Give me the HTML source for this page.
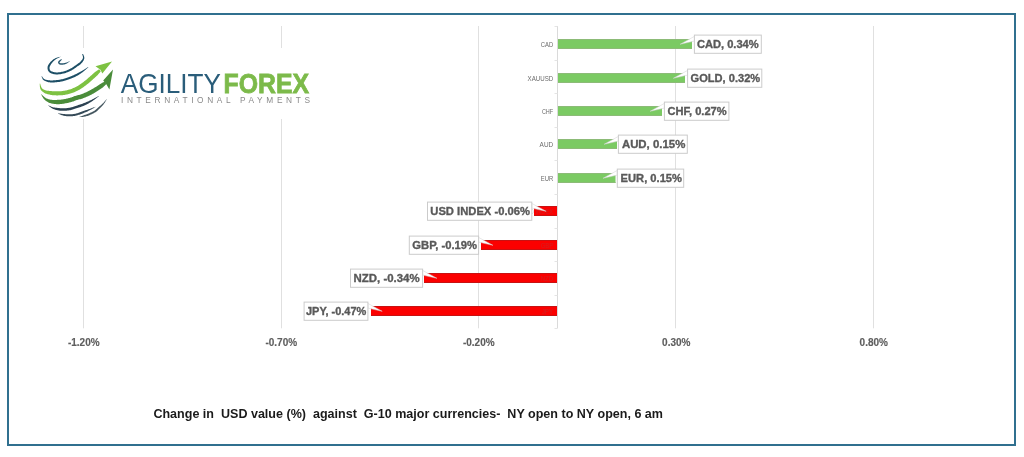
<!DOCTYPE html>
<html><head><meta charset="utf-8"><title>USD vs G-10 currencies</title>
<style>
html,body{margin:0;padding:0;background:#fff;}
body{width:1024px;height:457px;overflow:hidden;position:relative;}
svg{position:absolute;left:0;top:0;display:block;filter:blur(0.35px);}
.lbl{font-family:"Liberation Sans",Arial,sans-serif;font-weight:bold;fill:#595959;stroke:#595959;stroke-width:0.32px;}
.cat{font-family:"Liberation Sans",Arial,sans-serif;fill:#595959;}
</style></head><body>
<svg width="1024" height="457" viewBox="0 0 1024 457">
<rect x="0" y="0" width="1024" height="457" fill="#fff"/>

<rect x="8" y="14" width="1007" height="431" fill="none" stroke="#30708f" stroke-width="2"/>
<line x1="83.5" y1="26" x2="83.5" y2="328.3" stroke="#e0e0e0" stroke-width="1"/>
<line x1="281.5" y1="26" x2="281.5" y2="328.3" stroke="#e0e0e0" stroke-width="1"/>
<line x1="478.5" y1="26" x2="478.5" y2="328.3" stroke="#e0e0e0" stroke-width="1"/>
<line x1="675.5" y1="26" x2="675.5" y2="328.3" stroke="#e0e0e0" stroke-width="1"/>
<line x1="873.5" y1="26" x2="873.5" y2="328.3" stroke="#e0e0e0" stroke-width="1"/>
<line x1="557.5" y1="26" x2="557.5" y2="328.3" stroke="#dadada" stroke-width="1"/>
<line x1="554.5" y1="26.5" x2="557.5" y2="26.5" stroke="#e4e4e4" stroke-width="1"/>
<line x1="554.5" y1="60.5" x2="557.5" y2="60.5" stroke="#e4e4e4" stroke-width="1"/>
<line x1="554.5" y1="93.5" x2="557.5" y2="93.5" stroke="#e4e4e4" stroke-width="1"/>
<line x1="554.5" y1="127.5" x2="557.5" y2="127.5" stroke="#e4e4e4" stroke-width="1"/>
<line x1="554.5" y1="160.5" x2="557.5" y2="160.5" stroke="#e4e4e4" stroke-width="1"/>
<line x1="554.5" y1="194.5" x2="557.5" y2="194.5" stroke="#e4e4e4" stroke-width="1"/>
<line x1="554.5" y1="228.5" x2="557.5" y2="228.5" stroke="#e4e4e4" stroke-width="1"/>
<line x1="554.5" y1="261.5" x2="557.5" y2="261.5" stroke="#e4e4e4" stroke-width="1"/>
<line x1="554.5" y1="295.5" x2="557.5" y2="295.5" stroke="#e4e4e4" stroke-width="1"/>
<line x1="554.5" y1="328.5" x2="557.5" y2="328.5" stroke="#e4e4e4" stroke-width="1"/>
<rect x="558" y="39.0" width="134.0" height="10" fill="#7bca63"/>
<rect x="558" y="39.0" width="134.0" height="1" fill="#8cbb77"/>
<rect x="558" y="48.0" width="134.0" height="1" fill="#8cbb77"/>
<rect x="558" y="73.0" width="127.0" height="10" fill="#7bca63"/>
<rect x="558" y="73.0" width="127.0" height="1" fill="#8cbb77"/>
<rect x="558" y="82.0" width="127.0" height="1" fill="#8cbb77"/>
<rect x="558" y="106.0" width="104.0" height="10" fill="#7bca63"/>
<rect x="558" y="106.0" width="104.0" height="1" fill="#8cbb77"/>
<rect x="558" y="115.0" width="104.0" height="1" fill="#8cbb77"/>
<rect x="558" y="139.0" width="59.0" height="10" fill="#7bca63"/>
<rect x="558" y="139.0" width="59.0" height="1" fill="#8cbb77"/>
<rect x="558" y="148.0" width="59.0" height="1" fill="#8cbb77"/>
<rect x="558" y="173.0" width="57.5" height="10" fill="#7bca63"/>
<rect x="558" y="173.0" width="57.5" height="1" fill="#8cbb77"/>
<rect x="558" y="182.0" width="57.5" height="1" fill="#8cbb77"/>
<rect x="534.0" y="206.0" width="23.0" height="10" fill="#fb0000"/>
<rect x="534.0" y="206.0" width="23.0" height="1" fill="#c81212"/>
<rect x="534.0" y="215.0" width="23.0" height="1" fill="#c81212"/>
<rect x="481.0" y="240.0" width="76.0" height="10" fill="#fb0000"/>
<rect x="481.0" y="240.0" width="76.0" height="1" fill="#c81212"/>
<rect x="481.0" y="249.0" width="76.0" height="1" fill="#c81212"/>
<rect x="424.0" y="273.0" width="133.0" height="10" fill="#fb0000"/>
<rect x="424.0" y="273.0" width="133.0" height="1" fill="#c81212"/>
<rect x="424.0" y="282.0" width="133.0" height="1" fill="#c81212"/>
<rect x="371.0" y="306.0" width="186.0" height="10" fill="#fb0000"/>
<rect x="371.0" y="306.0" width="186.0" height="1" fill="#c81212"/>
<rect x="371.0" y="315.0" width="186.0" height="1" fill="#c81212"/>
<text class="cat" x="540.8" y="46.9" font-size="7.2" textLength="12.4" lengthAdjust="spacingAndGlyphs" style="fill:#6a6a6a">CAD</text>
<text class="cat" x="527.6" y="80.9" font-size="7.2" textLength="25.6" lengthAdjust="spacingAndGlyphs" style="fill:#6a6a6a">XAUUSD</text>
<text class="cat" x="541.9" y="113.9" font-size="7.2" textLength="11.3" lengthAdjust="spacingAndGlyphs" style="fill:#6a6a6a">CHF</text>
<text class="cat" x="539.6" y="146.9" font-size="7.2" textLength="13.6" lengthAdjust="spacingAndGlyphs" style="fill:#6a6a6a">AUD</text>
<text class="cat" x="540.7" y="180.9" font-size="7.2" textLength="12.5" lengthAdjust="spacingAndGlyphs" style="fill:#6a6a6a">EUR</text>
<text class="cat" x="521.7" y="213.9" font-size="7.2" textLength="31.5" lengthAdjust="spacingAndGlyphs" style="fill:#6a6a6a" opacity="0.3">USD INDEX</text>
<text class="cat" x="540.7" y="247.9" font-size="7.2" textLength="12.5" lengthAdjust="spacingAndGlyphs" style="fill:#6a6a6a" opacity="0.3">GBP</text>
<text class="cat" x="540.7" y="280.9" font-size="7.2" textLength="12.5" lengthAdjust="spacingAndGlyphs" style="fill:#6a6a6a" opacity="0.3">NZD</text>
<text class="cat" x="541.7" y="313.9" font-size="7.2" textLength="11.5" lengthAdjust="spacingAndGlyphs" style="fill:#6a6a6a" opacity="0.3">JPY</text>
<path d="M694.4,36.4 L680.1,44.3 L694.4,41.1 Z" fill="#fff" stroke="#d0d0d0" stroke-width="0.5"/>
<rect x="694.4" y="35.1" width="66.9" height="18.2" fill="#fff" stroke="#cbcbcb" stroke-width="1"/>
<text class="lbl" x="696.9" y="48.3" font-size="10.2" textLength="61.8" lengthAdjust="spacingAndGlyphs">CAD, 0.34%</text>
<path d="M687.6,70.4 L673.3,78.3 L687.6,75.1 Z" fill="#fff" stroke="#d0d0d0" stroke-width="0.5"/>
<rect x="687.6" y="69.1" width="74.2" height="18.2" fill="#fff" stroke="#cbcbcb" stroke-width="1"/>
<text class="lbl" x="690.6" y="82.3" font-size="10.2" textLength="69.6" lengthAdjust="spacingAndGlyphs">GOLD, 0.32%</text>
<path d="M664.4,103.4 L650.1,111.3 L664.4,108.1 Z" fill="#fff" stroke="#d0d0d0" stroke-width="0.5"/>
<rect x="664.4" y="102.1" width="64.5" height="18.2" fill="#fff" stroke="#cbcbcb" stroke-width="1"/>
<text class="lbl" x="667.4" y="115.3" font-size="10.2" textLength="59.3" lengthAdjust="spacingAndGlyphs">CHF, 0.27%</text>
<path d="M618.4,136.4 L604.1,144.3 L618.4,141.1 Z" fill="#fff" stroke="#d0d0d0" stroke-width="0.5"/>
<rect x="618.4" y="135.1" width="68.9" height="18.2" fill="#fff" stroke="#cbcbcb" stroke-width="1"/>
<text class="lbl" x="621.9" y="148.3" font-size="10.2" textLength="63.4" lengthAdjust="spacingAndGlyphs">AUD, 0.15%</text>
<path d="M617.3,170.4 L603.0,178.3 L617.3,175.1 Z" fill="#fff" stroke="#d0d0d0" stroke-width="0.5"/>
<rect x="617.3" y="169.1" width="66.4" height="18.2" fill="#fff" stroke="#cbcbcb" stroke-width="1"/>
<text class="lbl" x="620.6" y="182.3" font-size="10.2" textLength="61.4" lengthAdjust="spacingAndGlyphs">EUR, 0.15%</text>
<path d="M531.8,203.4 L546.1,211.3 L531.8,208.1 Z" fill="#fff" stroke="#d0d0d0" stroke-width="0.5"/>
<rect x="427.5" y="202.1" width="104.3" height="18.2" fill="#fff" stroke="#cbcbcb" stroke-width="1"/>
<text class="lbl" x="430.3" y="215.3" font-size="10.2" textLength="99.7" lengthAdjust="spacingAndGlyphs">USD INDEX -0.06%</text>
<path d="M478.6,237.4 L492.9,245.3 L478.6,242.1 Z" fill="#fff" stroke="#d0d0d0" stroke-width="0.5"/>
<rect x="409.3" y="236.1" width="69.3" height="18.2" fill="#fff" stroke="#cbcbcb" stroke-width="1"/>
<text class="lbl" x="412.3" y="249.3" font-size="10.2" textLength="64.7" lengthAdjust="spacingAndGlyphs">GBP, -0.19%</text>
<path d="M422.6,270.4 L436.9,278.3 L422.6,275.1 Z" fill="#fff" stroke="#d0d0d0" stroke-width="0.5"/>
<rect x="350.5" y="269.1" width="72.1" height="18.2" fill="#fff" stroke="#cbcbcb" stroke-width="1"/>
<text class="lbl" x="353.6" y="282.3" font-size="10.2" textLength="66.0" lengthAdjust="spacingAndGlyphs">NZD, -0.34%</text>
<path d="M367.9,303.4 L382.2,311.3 L367.9,308.1 Z" fill="#fff" stroke="#d0d0d0" stroke-width="0.5"/>
<rect x="304.1" y="302.1" width="63.8" height="18.2" fill="#fff" stroke="#cbcbcb" stroke-width="1"/>
<text class="lbl" x="306.0" y="315.3" font-size="10.2" textLength="60.3" lengthAdjust="spacingAndGlyphs">JPY, -0.47%</text>
<text class="cat" x="83.8" y="346.4" font-size="10" font-weight="bold" text-anchor="middle" style="fill:#5e5e5e;stroke:#5e5e5e;stroke-width:0.15px">-1.20%</text>
<text class="cat" x="281.3" y="346.4" font-size="10" font-weight="bold" text-anchor="middle" style="fill:#5e5e5e;stroke:#5e5e5e;stroke-width:0.15px">-0.70%</text>
<text class="cat" x="478.8" y="346.4" font-size="10" font-weight="bold" text-anchor="middle" style="fill:#5e5e5e;stroke:#5e5e5e;stroke-width:0.15px">-0.20%</text>
<text class="cat" x="676.3" y="346.4" font-size="10" font-weight="bold" text-anchor="middle" style="fill:#5e5e5e;stroke:#5e5e5e;stroke-width:0.15px">0.30%</text>
<text class="cat" x="873.8" y="346.4" font-size="10" font-weight="bold" text-anchor="middle" style="fill:#5e5e5e;stroke:#5e5e5e;stroke-width:0.15px">0.80%</text>
<text x="153.4" y="418" font-family="Liberation Sans, Arial, sans-serif" font-weight="bold" font-size="12.4" fill="#1a1a1a" textLength="509.6" lengthAdjust="spacingAndGlyphs" xml:space="preserve">Change in  USD value (%)  against  G-10 major currencies-  NY open to NY open, 6 am</text>
<rect x="34" y="48" width="286" height="71" fill="#fff"/>
<path d="M61.33,59.10 L61.06,59.29 L60.67,59.54 L60.18,59.85 L59.66,60.21 L59.16,60.60 L58.70,61.02 L58.32,61.48 L58.08,62.00 L58.04,62.56 L58.15,63.05 L58.38,63.48 L58.69,63.84 L59.06,64.16 L59.49,64.41 L59.96,64.61 L60.47,64.74 L61.03,64.80 L61.64,64.80 L62.30,64.76 L62.99,64.68 L63.69,64.55 L64.39,64.39 L65.05,64.20 L65.68,63.99 L66.30,63.72 L66.92,63.39 L67.54,63.01 L68.12,62.62 L68.66,62.24 L69.14,61.89 L69.54,61.60 L69.85,61.39 L69.75,61.21 L69.40,61.34 L68.94,61.53 L68.39,61.76 L67.79,62.00 L67.15,62.25 L66.51,62.48 L65.89,62.67 L65.32,62.81 L64.74,62.93 L64.10,63.03 L63.45,63.13 L62.80,63.21 L62.17,63.27 L61.60,63.30 L61.11,63.30 L60.73,63.26 L60.43,63.18 L60.16,63.07 L59.93,62.93 L59.75,62.78 L59.62,62.63 L59.55,62.51 L59.53,62.42 L59.52,62.40 L59.58,62.28 L59.79,61.99 L60.12,61.60 L60.51,61.17 L60.92,60.73 L61.31,60.31 L61.64,59.96 L61.87,59.70Z" fill="#2c5a70"/>
<path d="M60.45,56.66 L60.05,56.77 L59.50,56.91 L58.85,57.07 L58.13,57.26 L57.37,57.48 L56.61,57.73 L55.88,58.00 L55.21,58.30 L54.60,58.63 L54.01,58.99 L53.44,59.37 L52.88,59.78 L52.34,60.21 L51.82,60.67 L51.31,61.14 L50.84,61.62 L50.37,62.12 L49.91,62.66 L49.45,63.22 L49.01,63.81 L48.61,64.42 L48.25,65.05 L47.95,65.69 L47.73,66.35 L47.60,67.01 L47.54,67.67 L47.54,68.33 L47.60,68.99 L47.73,69.62 L47.91,70.24 L48.16,70.82 L48.48,71.37 L48.88,71.86 L49.36,72.29 L49.87,72.66 L50.42,72.97 L50.99,73.24 L51.56,73.47 L52.14,73.68 L52.72,73.86 L53.30,74.02 L53.90,74.16 L54.52,74.27 L55.16,74.35 L55.83,74.41 L56.51,74.43 L57.22,74.43 L57.96,74.40 L58.74,74.34 L59.56,74.25 L60.41,74.13 L61.28,73.98 L62.16,73.81 L63.05,73.62 L63.92,73.40 L64.79,73.16 L65.64,72.89 L66.51,72.58 L67.38,72.25 L68.24,71.90 L69.08,71.54 L69.91,71.16 L70.70,70.77 L71.47,70.38 L72.19,69.99 L72.88,69.58 L73.53,69.17 L74.16,68.74 L74.77,68.32 L75.37,67.89 L75.97,67.45 L76.58,67.02 L77.21,66.57 L77.87,66.12 L78.55,65.65 L79.23,65.17 L79.90,64.67 L80.54,64.15 L81.14,63.61 L81.68,63.06 L82.15,62.50 L82.60,61.94 L83.01,61.37 L83.38,60.78 L83.70,60.18 L83.96,59.57 L84.16,58.95 L84.29,58.31 L84.31,57.63 L84.20,56.95 L84.01,56.29 L83.78,55.67 L83.53,55.10 L83.29,54.59 L83.10,54.18 L82.98,53.88 L82.22,54.12 L82.30,54.46 L82.44,54.92 L82.59,55.44 L82.75,56.01 L82.88,56.59 L82.96,57.15 L82.97,57.66 L82.91,58.09 L82.76,58.50 L82.56,58.95 L82.29,59.41 L81.97,59.87 L81.61,60.34 L81.21,60.81 L80.78,61.28 L80.32,61.74 L79.84,62.19 L79.30,62.63 L78.70,63.09 L78.07,63.55 L77.41,64.01 L76.74,64.47 L76.07,64.93 L75.42,65.38 L74.80,65.83 L74.20,66.26 L73.61,66.68 L73.03,67.09 L72.44,67.49 L71.83,67.88 L71.20,68.25 L70.53,68.62 L69.82,68.98 L69.06,69.35 L68.27,69.71 L67.46,70.06 L66.64,70.39 L65.82,70.71 L65.01,70.99 L64.21,71.24 L63.41,71.47 L62.59,71.67 L61.76,71.86 L60.92,72.02 L60.10,72.15 L59.31,72.26 L58.55,72.35 L57.84,72.40 L57.17,72.43 L56.54,72.43 L55.95,72.41 L55.37,72.36 L54.83,72.29 L54.30,72.20 L53.79,72.08 L53.28,71.94 L52.78,71.78 L52.27,71.60 L51.79,71.41 L51.34,71.19 L50.94,70.97 L50.60,70.73 L50.33,70.48 L50.12,70.23 L49.95,69.93 L49.79,69.56 L49.67,69.15 L49.58,68.70 L49.54,68.23 L49.54,67.76 L49.58,67.29 L49.67,66.85 L49.81,66.42 L50.02,65.94 L50.29,65.42 L50.62,64.89 L50.98,64.35 L51.36,63.81 L51.76,63.28 L52.16,62.78 L52.56,62.30 L52.97,61.83 L53.40,61.37 L53.85,60.92 L54.31,60.48 L54.79,60.07 L55.29,59.67 L55.79,59.30 L56.34,58.94 L56.98,58.58 L57.67,58.24 L58.37,57.91 L59.04,57.61 L59.65,57.34 L60.17,57.12 L60.55,56.94Z" fill="#1d4f66"/>
<path d="M41.48,76.42 L41.61,76.70 L41.75,77.08 L41.93,77.54 L42.15,78.05 L42.41,78.60 L42.71,79.14 L43.09,79.65 L43.53,80.10 L44.03,80.47 L44.57,80.80 L45.16,81.09 L45.78,81.36 L46.41,81.59 L47.06,81.80 L47.70,81.98 L48.33,82.14 L48.96,82.27 L49.59,82.36 L50.22,82.43 L50.85,82.48 L51.50,82.50 L52.16,82.49 L52.84,82.48 L53.55,82.45 L54.30,82.41 L55.09,82.36 L55.91,82.29 L56.76,82.21 L57.61,82.12 L58.48,82.01 L59.34,81.88 L60.19,81.73 L61.04,81.57 L61.91,81.38 L62.77,81.17 L63.64,80.95 L64.49,80.72 L65.32,80.48 L66.13,80.24 L66.91,80.00 L67.67,79.76 L68.41,79.51 L69.13,79.25 L69.84,78.99 L70.51,78.73 L71.17,78.47 L71.79,78.22 L72.39,77.97 L72.93,77.76 L73.41,77.57 L73.87,77.39 L74.31,77.20 L74.78,77.00 L75.29,76.76 L75.85,76.47 L76.50,76.12 L77.25,75.69 L78.09,75.19 L78.98,74.64 L79.90,74.04 L80.83,73.42 L81.74,72.79 L82.60,72.17 L83.39,71.59 L84.14,70.99 L84.89,70.36 L85.63,69.73 L86.33,69.11 L86.97,68.52 L87.54,67.99 L88.02,67.55 L88.39,67.22 L88.21,66.98 L87.78,67.24 L87.23,67.59 L86.58,68.01 L85.85,68.47 L85.06,68.96 L84.24,69.46 L83.42,69.95 L82.61,70.41 L81.77,70.88 L80.86,71.38 L79.90,71.90 L78.93,72.42 L77.98,72.94 L77.07,73.43 L76.24,73.88 L75.50,74.28 L74.88,74.61 L74.36,74.87 L73.90,75.09 L73.49,75.27 L73.08,75.44 L72.64,75.62 L72.16,75.81 L71.61,76.03 L71.01,76.27 L70.39,76.52 L69.75,76.77 L69.09,77.02 L68.41,77.28 L67.72,77.53 L67.01,77.77 L66.29,78.00 L65.53,78.23 L64.74,78.46 L63.93,78.69 L63.10,78.92 L62.27,79.13 L61.44,79.33 L60.61,79.51 L59.81,79.67 L59.01,79.80 L58.19,79.93 L57.36,80.03 L56.54,80.12 L55.73,80.20 L54.94,80.26 L54.18,80.31 L53.45,80.35 L52.77,80.38 L52.12,80.40 L51.50,80.41 L50.91,80.41 L50.34,80.40 L49.79,80.37 L49.23,80.33 L48.67,80.26 L48.08,80.18 L47.47,80.08 L46.87,79.96 L46.27,79.83 L45.70,79.68 L45.17,79.51 L44.69,79.31 L44.27,79.10 L43.90,78.84 L43.55,78.50 L43.20,78.09 L42.88,77.65 L42.58,77.20 L42.32,76.79 L42.10,76.43 L41.92,76.18Z" fill="#1d4f66"/>
<path d="M39.70,83.64 L39.74,84.07 L39.77,84.65 L39.80,85.35 L39.85,86.13 L39.93,86.95 L40.06,87.77 L40.25,88.56 L40.53,89.27 L40.90,89.90 L41.33,90.46 L41.80,90.97 L42.31,91.43 L42.83,91.85 L43.35,92.22 L43.87,92.57 L44.38,92.89 L44.90,93.19 L45.44,93.45 L45.98,93.67 L46.53,93.86 L47.08,94.03 L47.63,94.18 L48.20,94.32 L48.81,94.47 L49.46,94.62 L50.16,94.76 L50.88,94.90 L51.64,95.02 L52.43,95.13 L53.24,95.22 L54.08,95.29 L54.93,95.34 L55.81,95.37 L56.73,95.38 L57.68,95.38 L58.64,95.37 L59.62,95.34 L60.60,95.29 L61.57,95.23 L62.52,95.14 L63.44,95.03 L64.34,94.90 L65.24,94.75 L66.13,94.59 L67.00,94.40 L67.86,94.21 L68.71,94.00 L69.55,93.78 L70.37,93.54 L71.17,93.29 L71.97,93.03 L72.75,92.75 L73.53,92.45 L74.30,92.14 L75.08,91.81 L75.85,91.46 L76.64,91.10 L77.42,90.71 L78.20,90.31 L78.99,89.89 L79.77,89.45 L80.55,88.99 L81.33,88.52 L82.12,88.02 L82.91,87.49 L83.70,86.94 L84.49,86.36 L85.27,85.78 L86.05,85.18 L86.81,84.58 L87.56,83.98 L88.29,83.39 L89.03,82.79 L89.75,82.17 L90.47,81.55 L91.17,80.93 L91.86,80.32 L92.54,79.71 L93.21,79.12 L93.86,78.53 L94.53,77.94 L95.21,77.33 L95.89,76.72 L96.55,76.11 L97.17,75.50 L97.75,74.91 L98.26,74.35 L98.71,73.83 L99.11,73.37 L99.47,72.93 L99.80,72.53 L100.08,72.17 L100.34,71.85 L100.55,71.58 L100.73,71.34 L100.88,71.15 L99.12,69.25 L98.91,69.38 L98.67,69.55 L98.38,69.74 L98.04,69.96 L97.66,70.22 L97.25,70.50 L96.79,70.82 L96.29,71.17 L95.74,71.56 L95.13,72.02 L94.49,72.53 L93.82,73.08 L93.15,73.67 L92.48,74.28 L91.80,74.88 L91.14,75.47 L90.47,76.06 L89.80,76.66 L89.13,77.26 L88.45,77.87 L87.77,78.46 L87.09,79.06 L86.40,79.64 L85.71,80.21 L84.99,80.79 L84.26,81.37 L83.53,81.94 L82.79,82.51 L82.05,83.06 L81.32,83.60 L80.60,84.10 L79.88,84.58 L79.17,85.04 L78.45,85.48 L77.73,85.89 L77.01,86.30 L76.30,86.68 L75.58,87.05 L74.86,87.40 L74.15,87.74 L73.43,88.06 L72.73,88.35 L72.03,88.64 L71.34,88.90 L70.63,89.15 L69.92,89.39 L69.20,89.61 L68.45,89.82 L67.69,90.03 L66.91,90.22 L66.13,90.40 L65.33,90.56 L64.53,90.71 L63.72,90.85 L62.91,90.96 L62.08,91.06 L61.24,91.14 L60.37,91.20 L59.47,91.24 L58.56,91.27 L57.65,91.28 L56.75,91.28 L55.89,91.27 L55.07,91.26 L54.29,91.24 L53.53,91.22 L52.78,91.19 L52.06,91.14 L51.35,91.10 L50.67,91.05 L50.02,90.99 L49.39,90.93 L48.80,90.87 L48.25,90.82 L47.75,90.77 L47.30,90.71 L46.87,90.65 L46.47,90.56 L46.06,90.46 L45.62,90.31 L45.14,90.13 L44.63,89.93 L44.14,89.71 L43.66,89.48 L43.20,89.23 L42.78,88.96 L42.40,88.65 L42.07,88.33 L41.76,87.90 L41.45,87.32 L41.16,86.64 L40.88,85.92 L40.64,85.20 L40.43,84.53 L40.24,83.97 L40.10,83.56Z" fill="#7dc242"/>
<path d="M41.14,94.42 L41.35,94.80 L41.63,95.33 L41.96,95.95 L42.34,96.65 L42.75,97.37 L43.19,98.08 L43.66,98.76 L44.15,99.35 L44.64,99.85 L45.16,100.31 L45.69,100.73 L46.23,101.11 L46.78,101.47 L47.34,101.79 L47.89,102.09 L48.44,102.38 L49.00,102.64 L49.56,102.88 L50.13,103.10 L50.71,103.29 L51.32,103.47 L51.95,103.62 L52.61,103.75 L53.32,103.87 L54.09,103.98 L54.90,104.06 L55.75,104.12 L56.62,104.17 L57.51,104.18 L58.40,104.18 L59.29,104.15 L60.17,104.09 L61.05,104.01 L61.94,103.91 L62.83,103.79 L63.71,103.66 L64.58,103.52 L65.43,103.37 L66.25,103.21 L67.04,103.06 L67.81,102.89 L68.57,102.72 L69.31,102.54 L70.03,102.36 L70.72,102.17 L71.39,101.98 L72.03,101.79 L72.66,101.60 L73.27,101.40 L73.83,101.19 L74.34,100.99 L74.80,100.80 L75.24,100.62 L75.68,100.45 L76.15,100.27 L76.67,100.10 L77.26,99.92 L77.93,99.73 L78.66,99.54 L79.43,99.34 L80.24,99.13 L81.06,98.90 L81.90,98.65 L82.72,98.38 L83.51,98.10 L84.29,97.80 L85.07,97.49 L85.85,97.17 L86.63,96.84 L87.40,96.50 L88.17,96.15 L88.95,95.79 L89.72,95.41 L90.49,95.03 L91.27,94.63 L92.04,94.22 L92.81,93.80 L93.58,93.38 L94.34,92.94 L95.11,92.50 L95.88,92.04 L96.66,91.57 L97.44,91.09 L98.21,90.61 L98.98,90.11 L99.74,89.62 L100.50,89.12 L101.24,88.62 L102.00,88.06 L102.77,87.44 L103.54,86.78 L104.27,86.11 L104.94,85.46 L105.53,84.87 L106.02,84.38 L106.39,84.01 L104.61,81.59 L104.14,81.84 L103.52,82.17 L102.79,82.57 L101.98,83.01 L101.14,83.50 L100.30,84.00 L99.50,84.50 L98.76,84.98 L98.05,85.46 L97.33,85.94 L96.59,86.42 L95.85,86.89 L95.11,87.36 L94.37,87.82 L93.63,88.27 L92.89,88.70 L92.16,89.12 L91.42,89.54 L90.69,89.95 L89.96,90.34 L89.23,90.73 L88.51,91.10 L87.78,91.46 L87.05,91.81 L86.33,92.15 L85.60,92.49 L84.87,92.81 L84.15,93.11 L83.43,93.41 L82.71,93.70 L81.99,93.97 L81.28,94.22 L80.58,94.45 L79.85,94.67 L79.09,94.88 L78.32,95.08 L77.55,95.28 L76.79,95.48 L76.04,95.69 L75.33,95.90 L74.68,96.12 L74.10,96.34 L73.59,96.54 L73.12,96.74 L72.69,96.91 L72.27,97.08 L71.83,97.24 L71.34,97.40 L70.77,97.58 L70.17,97.75 L69.54,97.93 L68.90,98.10 L68.24,98.27 L67.56,98.44 L66.87,98.60 L66.16,98.74 L65.42,98.89 L64.64,99.04 L63.84,99.18 L63.02,99.31 L62.21,99.44 L61.40,99.55 L60.61,99.64 L59.83,99.71 L59.05,99.76 L58.24,99.81 L57.43,99.85 L56.62,99.88 L55.83,99.91 L55.06,99.93 L54.34,99.93 L53.68,99.93 L53.07,99.91 L52.50,99.88 L51.99,99.85 L51.50,99.79 L51.03,99.73 L50.55,99.65 L50.07,99.55 L49.56,99.42 L49.02,99.28 L48.49,99.13 L47.96,98.97 L47.44,98.80 L46.93,98.60 L46.43,98.38 L45.93,98.13 L45.45,97.85 L44.95,97.50 L44.39,97.05 L43.81,96.52 L43.24,95.97 L42.69,95.42 L42.19,94.91 L41.78,94.49 L41.46,94.18Z" fill="#4a8c3a"/>
<path d="M48.22,105.53 L48.57,105.80 L49.00,106.17 L49.51,106.61 L50.11,107.10 L50.79,107.61 L51.54,108.12 L52.36,108.60 L53.25,109.01 L54.21,109.36 L55.26,109.70 L56.38,110.01 L57.56,110.27 L58.76,110.50 L59.96,110.67 L61.13,110.78 L62.25,110.85 L63.33,110.87 L64.39,110.85 L65.44,110.79 L66.46,110.69 L67.45,110.57 L68.41,110.44 L69.34,110.29 L70.23,110.13 L71.10,109.95 L71.92,109.75 L72.69,109.52 L73.43,109.29 L74.16,109.04 L74.88,108.79 L75.61,108.54 L76.38,108.29 L77.20,108.03 L78.07,107.77 L78.96,107.49 L79.87,107.20 L80.79,106.91 L81.69,106.60 L82.58,106.27 L83.44,105.93 L84.27,105.58 L85.08,105.21 L85.87,104.83 L86.65,104.44 L87.40,104.04 L88.14,103.64 L88.85,103.25 L89.54,102.85 L90.20,102.46 L90.83,102.08 L91.44,101.69 L92.02,101.31 L92.60,100.92 L93.17,100.52 L93.74,100.12 L94.32,99.70 L94.93,99.25 L95.58,98.75 L96.25,98.23 L96.90,97.71 L97.52,97.22 L98.07,96.78 L98.53,96.40 L98.88,96.12 L98.72,95.88 L98.33,96.10 L97.81,96.39 L97.19,96.74 L96.51,97.14 L95.79,97.54 L95.06,97.95 L94.35,98.34 L93.68,98.70 L93.06,99.02 L92.45,99.33 L91.85,99.64 L91.24,99.94 L90.62,100.24 L89.99,100.54 L89.34,100.84 L88.66,101.15 L87.95,101.46 L87.22,101.78 L86.47,102.10 L85.71,102.43 L84.94,102.75 L84.15,103.06 L83.36,103.37 L82.56,103.67 L81.74,103.96 L80.89,104.25 L80.01,104.54 L79.11,104.82 L78.22,105.10 L77.33,105.38 L76.46,105.65 L75.62,105.91 L74.82,106.17 L74.06,106.43 L73.35,106.68 L72.65,106.91 L71.97,107.13 L71.27,107.33 L70.55,107.51 L69.77,107.67 L68.92,107.82 L68.03,107.97 L67.12,108.10 L66.19,108.21 L65.25,108.29 L64.29,108.35 L63.33,108.37 L62.35,108.35 L61.32,108.29 L60.22,108.19 L59.08,108.08 L57.93,107.96 L56.79,107.83 L55.69,107.70 L54.66,107.55 L53.75,107.39 L52.92,107.20 L52.11,106.94 L51.33,106.65 L50.59,106.32 L49.91,106.00 L49.30,105.70 L48.79,105.45 L48.38,105.27Z" fill="#2c4252"/>
<path d="M57.86,113.44 L58.15,113.58 L58.55,113.77 L59.02,113.99 L59.54,114.24 L60.11,114.49 L60.70,114.74 L61.28,114.97 L61.85,115.17 L62.39,115.35 L62.95,115.51 L63.51,115.66 L64.08,115.80 L64.67,115.93 L65.27,116.03 L65.89,116.12 L66.53,116.19 L67.20,116.24 L67.90,116.26 L68.62,116.28 L69.34,116.28 L70.06,116.27 L70.76,116.26 L71.43,116.23 L72.06,116.20 L72.64,116.16 L73.17,116.11 L73.68,116.06 L74.17,115.99 L74.66,115.91 L75.16,115.81 L75.68,115.70 L76.24,115.57 L76.84,115.42 L77.45,115.24 L78.08,115.05 L78.72,114.84 L79.37,114.63 L80.02,114.40 L80.67,114.17 L81.33,113.94 L82.01,113.70 L82.71,113.43 L83.42,113.15 L84.13,112.86 L84.83,112.57 L85.52,112.27 L86.18,111.98 L86.82,111.69 L87.42,111.41 L88.00,111.14 L88.56,110.86 L89.10,110.59 L89.63,110.32 L90.16,110.05 L90.69,109.78 L91.22,109.49 L91.78,109.19 L92.37,108.86 L92.98,108.51 L93.57,108.18 L94.13,107.85 L94.63,107.56 L95.05,107.32 L95.36,107.14 L95.24,106.86 L94.89,106.99 L94.44,107.16 L93.90,107.36 L93.29,107.59 L92.66,107.82 L92.01,108.06 L91.37,108.29 L90.78,108.51 L90.22,108.71 L89.66,108.90 L89.11,109.10 L88.55,109.29 L87.98,109.49 L87.40,109.69 L86.81,109.90 L86.18,110.11 L85.53,110.34 L84.85,110.58 L84.15,110.82 L83.44,111.07 L82.72,111.33 L82.02,111.58 L81.33,111.82 L80.67,112.06 L80.01,112.29 L79.36,112.51 L78.72,112.73 L78.09,112.94 L77.48,113.14 L76.88,113.32 L76.31,113.49 L75.76,113.63 L75.24,113.75 L74.76,113.85 L74.31,113.94 L73.88,114.01 L73.44,114.07 L72.98,114.12 L72.48,114.16 L71.94,114.20 L71.34,114.23 L70.70,114.26 L70.03,114.27 L69.34,114.28 L68.64,114.28 L67.96,114.26 L67.29,114.24 L66.67,114.21 L66.07,114.18 L65.49,114.14 L64.92,114.10 L64.36,114.05 L63.80,114.00 L63.25,113.94 L62.70,113.89 L62.15,113.83 L61.59,113.76 L60.99,113.67 L60.38,113.58 L59.78,113.48 L59.21,113.38 L58.70,113.29 L58.27,113.21 L57.94,113.16Z" fill="#354a58"/>
<path d="M79.53,117.15 L79.88,117.12 L80.35,117.10 L80.90,117.06 L81.52,117.02 L82.18,116.96 L82.86,116.89 L83.54,116.80 L84.19,116.70 L84.82,116.57 L85.45,116.44 L86.08,116.28 L86.73,116.11 L87.39,115.90 L88.06,115.67 L88.75,115.41 L89.44,115.13 L90.16,114.83 L90.91,114.51 L91.68,114.17 L92.47,113.81 L93.25,113.42 L94.03,113.02 L94.78,112.60 L95.50,112.15 L96.18,111.68 L96.82,111.18 L97.44,110.66 L98.03,110.12 L98.59,109.58 L99.13,109.05 L99.65,108.52 L100.16,108.00 L100.67,107.49 L101.17,106.98 L101.66,106.47 L102.14,105.96 L102.60,105.45 L103.05,104.92 L103.49,104.39 L103.91,103.85 L104.33,103.27 L104.75,102.64 L105.17,101.99 L105.56,101.35 L105.92,100.74 L106.24,100.19 L106.51,99.73 L106.72,99.39 L106.48,99.21 L106.22,99.52 L105.88,99.93 L105.48,100.42 L105.03,100.97 L104.55,101.54 L104.05,102.11 L103.56,102.65 L103.09,103.15 L102.62,103.61 L102.14,104.06 L101.65,104.51 L101.15,104.96 L100.64,105.41 L100.11,105.87 L99.58,106.33 L99.04,106.80 L98.48,107.29 L97.93,107.79 L97.38,108.30 L96.82,108.80 L96.26,109.30 L95.69,109.77 L95.11,110.23 L94.50,110.65 L93.86,111.05 L93.17,111.44 L92.44,111.82 L91.70,112.18 L90.94,112.53 L90.19,112.86 L89.46,113.17 L88.76,113.47 L88.09,113.74 L87.45,113.98 L86.81,114.21 L86.19,114.43 L85.58,114.65 L84.98,114.87 L84.39,115.08 L83.81,115.30 L83.22,115.53 L82.59,115.75 L81.96,115.98 L81.35,116.19 L80.76,116.40 L80.24,116.58 L79.80,116.73 L79.47,116.85Z" fill="#44565f"/>
<path d="M95.5,66.2 L112,61.6 L102.3,73.4 L100.5,69.8 Z" fill="#7dc242"/>
<path d="M103.2,80.6 L113,69.4 L109.4,89.6 L106.5,84.5 Z" fill="#4a8c3a"/>
<text x="120.8" y="92.6" font-family="Liberation Sans, Arial, sans-serif" font-size="28" fill="#2a5d7a" textLength="100" lengthAdjust="spacingAndGlyphs">AGILITY</text>
<text x="223.5" y="92.6" font-family="Liberation Sans, Arial, sans-serif" font-weight="bold" font-size="28" fill="#7cba4a" stroke="#7cba4a" stroke-width="0.8" textLength="85.5" lengthAdjust="spacingAndGlyphs">FOREX</text>
<text x="121" y="103" font-family="Liberation Sans, Arial, sans-serif" font-size="8.3" fill="#8a8a8a" textLength="189" lengthAdjust="spacing">INTERNATIONAL PAYMENTS</text>
</svg>
</body></html>
